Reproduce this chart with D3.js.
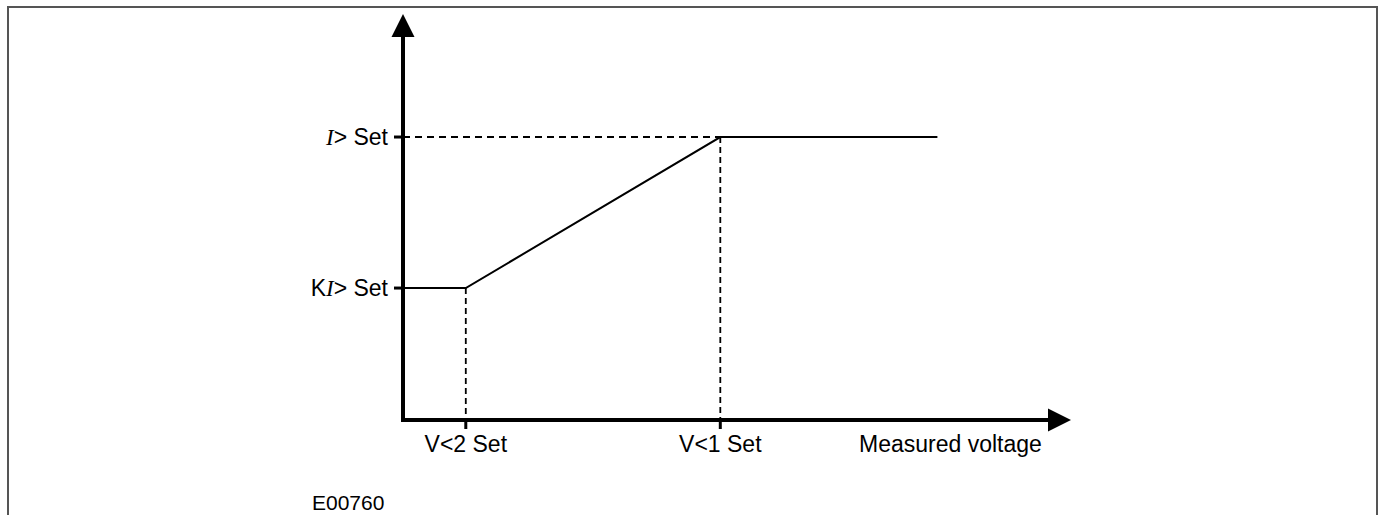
<!DOCTYPE html>
<html>
<head>
<meta charset="utf-8">
<script src="https://cdn.jsdelivr.net/npm/d3@7"></script>
<style>
  html, body { margin: 0; padding: 0; background: #fff; }
  svg { display: block; }
  text { font-family: "Liberation Sans", Arial, sans-serif; fill: #000; }
</style>
</head>
<body>
<svg id="chart" width="1386" height="515"></svg>
<script>
// Voltage thresholds (x) and current settings (y), in % of full axis
const xTickLabels = ["V<2 Set", "V<1 Set"];
const xTickValues = [9.4, 47.5];
const yTickLabels = [["K", "I", "> Set"], ["", "I", "> Set"]];
const yTickValues = [32.5, 69.7];
// Characteristic: current threshold vs measured voltage
const curveX = [0, 9.4, 47.5, 80];
const curveY = [32.5, 32.5, 69.7, 69.7];
const xAxisTitle = "Measured voltage";
const figureCode = "E00760";

const svg = d3.select("#chart");

// frame
svg.append("rect")
  .attr("x", 8).attr("y", 7)
  .attr("width", 1369).attr("height", 540)
  .attr("fill", "none").attr("stroke", "#555").attr("stroke-width", 2);

const x = d3.scaleLinear().domain([0, 100]).range([403, 1071]);
const y = d3.scaleLinear().domain([0, 100]).range([420, 14]);

const g = svg.append("g");

// dashed guide lines
const dash = g.append("g").attr("stroke", "#000").attr("stroke-width", 1.8).attr("fill", "none");
dash.append("line")
  .attr("x1", x(0)).attr("x2", x(xTickValues[1]))
  .attr("y1", y(yTickValues[1])).attr("y2", y(yTickValues[1]))
  .attr("stroke-dasharray", "7,5");
xTickValues.forEach((v, i) => {
  dash.append("line")
    .attr("x1", x(v)).attr("x2", x(v))
    .attr("y1", y(curveY[i === 0 ? 1 : 2])).attr("y2", y(0))
    .attr("stroke-dasharray", "6,4");
});

// characteristic curve
const pts = curveX.map((v, i) => [v, curveY[i]]);
g.append("path")
  .datum(pts)
  .attr("d", d3.line().x(d => x(d[0])).y(d => y(d[1])))
  .attr("fill", "none").attr("stroke", "#000").attr("stroke-width", 2);

// axes
const axisW = 4;
g.append("line")
  .attr("x1", x(0)).attr("x2", x(100) - 20)
  .attr("y1", y(0)).attr("y2", y(0))
  .attr("stroke", "#000").attr("stroke-width", axisW);
g.append("line")
  .attr("x1", x(0)).attr("x2", x(0))
  .attr("y1", y(0) + axisW / 2).attr("y2", y(100) + 20)
  .attr("stroke", "#000").attr("stroke-width", axisW);

// arrowheads
g.append("path")
  .attr("d", `M${x(100)},${y(0)} L${x(100) - 23},${y(0) - 11.5} L${x(100) - 23},${y(0) + 11.5} Z`)
  .attr("fill", "#000");
g.append("path")
  .attr("d", `M${x(0)},${y(100)} L${x(0) - 11.5},${y(100) + 23} L${x(0) + 11.5},${y(100) + 23} Z`)
  .attr("fill", "#000");

// tick marks
xTickValues.forEach(v => {
  g.append("line")
    .attr("x1", x(v)).attr("x2", x(v))
    .attr("y1", y(0)).attr("y2", y(0) + 9)
    .attr("stroke", "#000").attr("stroke-width", 3);
});
yTickValues.forEach(v => {
  g.append("line")
    .attr("x1", x(0) - 9).attr("x2", x(0))
    .attr("y1", y(v)).attr("y2", y(v))
    .attr("stroke", "#000").attr("stroke-width", 3);
});

// tick labels
const fs = 23;
xTickValues.forEach((v, i) => {
  g.append("text")
    .attr("x", x(v)).attr("y", 452)
    .attr("text-anchor", "middle")
    .attr("font-size", fs)
    .text(xTickLabels[i]);
});
yTickValues.forEach((v, i) => {
  const t = g.append("text")
    .attr("x", 388).attr("y", y(v))
    .attr("dy", "0.36em")
    .attr("text-anchor", "end")
    .attr("font-size", fs);
  const [pre, sym, post] = yTickLabels[i];
  if (pre) t.append("tspan").text(pre);
  t.append("tspan")
    .attr("font-family", "'Liberation Serif', 'Times New Roman', serif")
    .attr("font-style", "italic")
    .text(sym);
  t.append("tspan").text(post);
});

g.append("text")
  .attr("x", 859).attr("y", 452)
  .attr("font-size", fs)
  .text(xAxisTitle);

g.append("text")
  .attr("x", 312).attr("y", 510)
  .attr("font-size", 21)
  .text(figureCode);
</script>
</body>
</html>
